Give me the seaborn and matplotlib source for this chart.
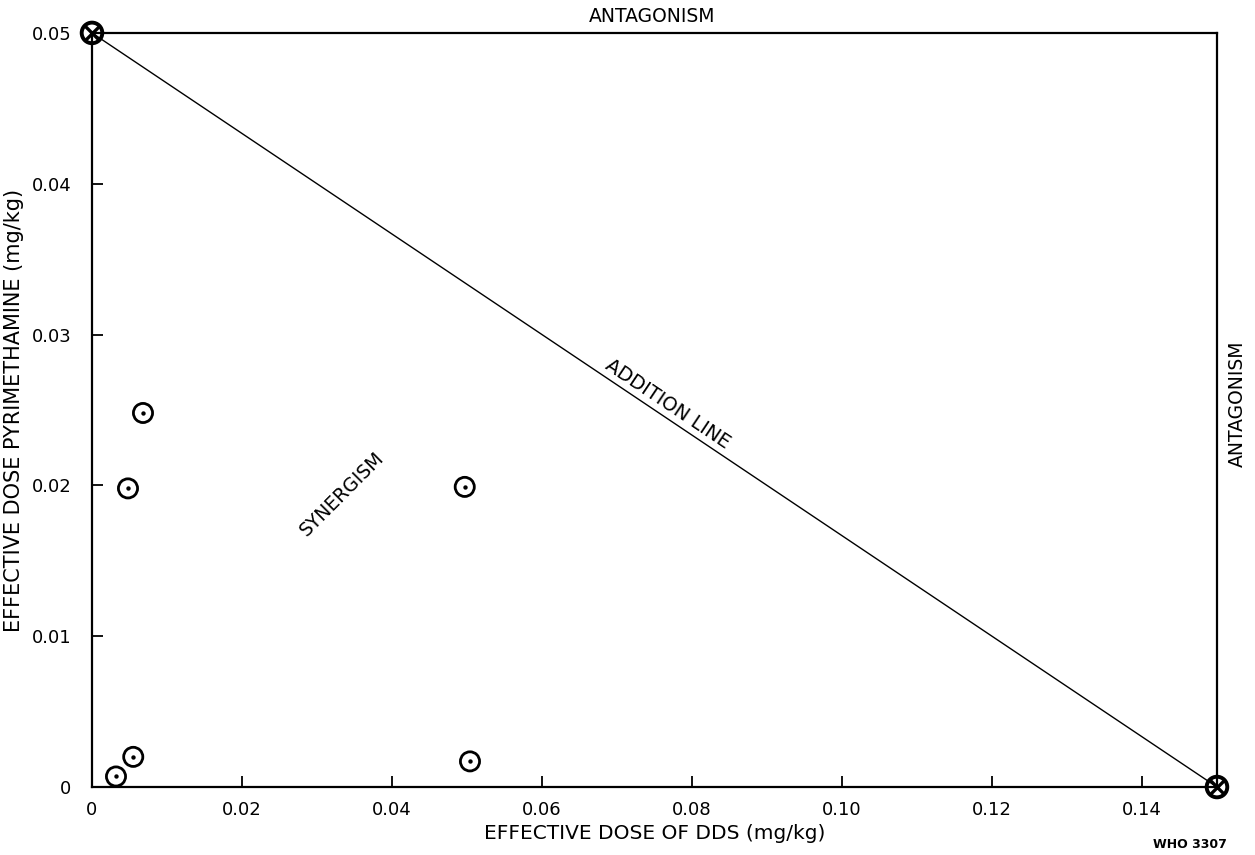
import matplotlib
matplotlib.use("Agg")
import matplotlib.pyplot as plt
import seaborn as sns
import pandas as pd

# effective doses of each drug given alone (ends of the addition line)
dds_alone = [0.0, 0.15]
pyr_alone = [0.05, 0.0]

# effective doses of the combinations
dds_combo = [0.0068, 0.0048, 0.0497, 0.0055, 0.0032, 0.0504]
pyr_combo = [0.0248, 0.0198, 0.0199, 0.0020, 0.0007, 0.0017]

x_ticks = [0, 0.02, 0.04, 0.06, 0.08, 0.10, 0.12, 0.14]
x_labels = ["0", "0.02", "0.04", "0.06", "0.08", "0.10", "0.12", "0.14"]
y_ticks = [0, 0.01, 0.02, 0.03, 0.04, 0.05]
y_labels = ["0", "0.01", "0.02", "0.03", "0.04", "0.05"]

sns.set_theme(style="white")
plt.rcParams['font.family'] = ['DejaVu Sans']
plt.rcParams['text.color'] = 'black'
plt.rcParams['axes.labelcolor'] = 'black'

combo = pd.DataFrame({"dds": dds_combo, "pyr": pyr_combo})
alone = pd.DataFrame({"dds": dds_alone, "pyr": pyr_alone})

fig = plt.figure(figsize=(12.55, 8.55), dpi=100)
ax = fig.add_axes([0.0733, 0.0795, 0.8964, 0.882])

sns.lineplot(data=alone, x="dds", y="pyr", color="black", linewidth=1.0, ax=ax)
sns.scatterplot(data=combo, x="dds", y="pyr", s=190, fc="none", ec="black",
                linewidth=2.0, ax=ax, zorder=3, clip_on=False)
sns.scatterplot(data=combo, x="dds", y="pyr", s=10, color="black",
                linewidth=0, ax=ax, zorder=4)
sns.scatterplot(data=alone, x="dds", y="pyr", s=220, fc="none", ec="black",
                linewidth=2.8, ax=ax, zorder=5, clip_on=False)
sns.scatterplot(data=alone, x="dds", y="pyr", s=110, marker="x", color="black",
                linewidth=2.4, ax=ax, zorder=6, clip_on=False)

ax.set_xlim(0, 0.15)
ax.set_ylim(0, 0.05)
ax.set_xticks(x_ticks)
ax.set_xticklabels(x_labels)
ax.set_yticks(y_ticks)
ax.set_yticklabels(y_labels)
ax.tick_params(direction="in", length=8, width=1.3, labelsize=13,
               top=False, right=False, colors="black")
ax.tick_params(axis="x", bottom=True, pad=10)
ax.tick_params(axis="y", left=True, pad=15)
for s in ax.spines.values():
    s.set_color("black")
    s.set_linewidth(1.6)

ax.set_xlabel("EFFECTIVE DOSE OF DDS (mg/kg)", fontsize=14.5, labelpad=4)
ax.set_ylabel("EFFECTIVE DOSE PYRIMETHAMINE (mg/kg)", fontsize=15, labelpad=5)

ax.text(0.0747, 0.05106, "ANTAGONISM", ha="center", va="center",
        fontsize=13.5, clip_on=False)
ax.text(0.1527, 0.0254, "ANTAGONISM", ha="center", va="center",
        fontsize=13.5, rotation=90, clip_on=False)
ax.text(0.0768, 0.0254, "ADDITION LINE", ha="center", va="center",
        fontsize=14, rotation=-33.8, rotation_mode="anchor")
ax.text(0.0333, 0.0194, "SYNERGISM", ha="center", va="center",
        fontsize=13.5, rotation=45, rotation_mode="anchor")

fig.text(0.948, 0.005, "WHO 3307", ha="center", va="bottom", fontsize=9,
         fontweight="bold")

fig.savefig("out.png", dpi=100)
